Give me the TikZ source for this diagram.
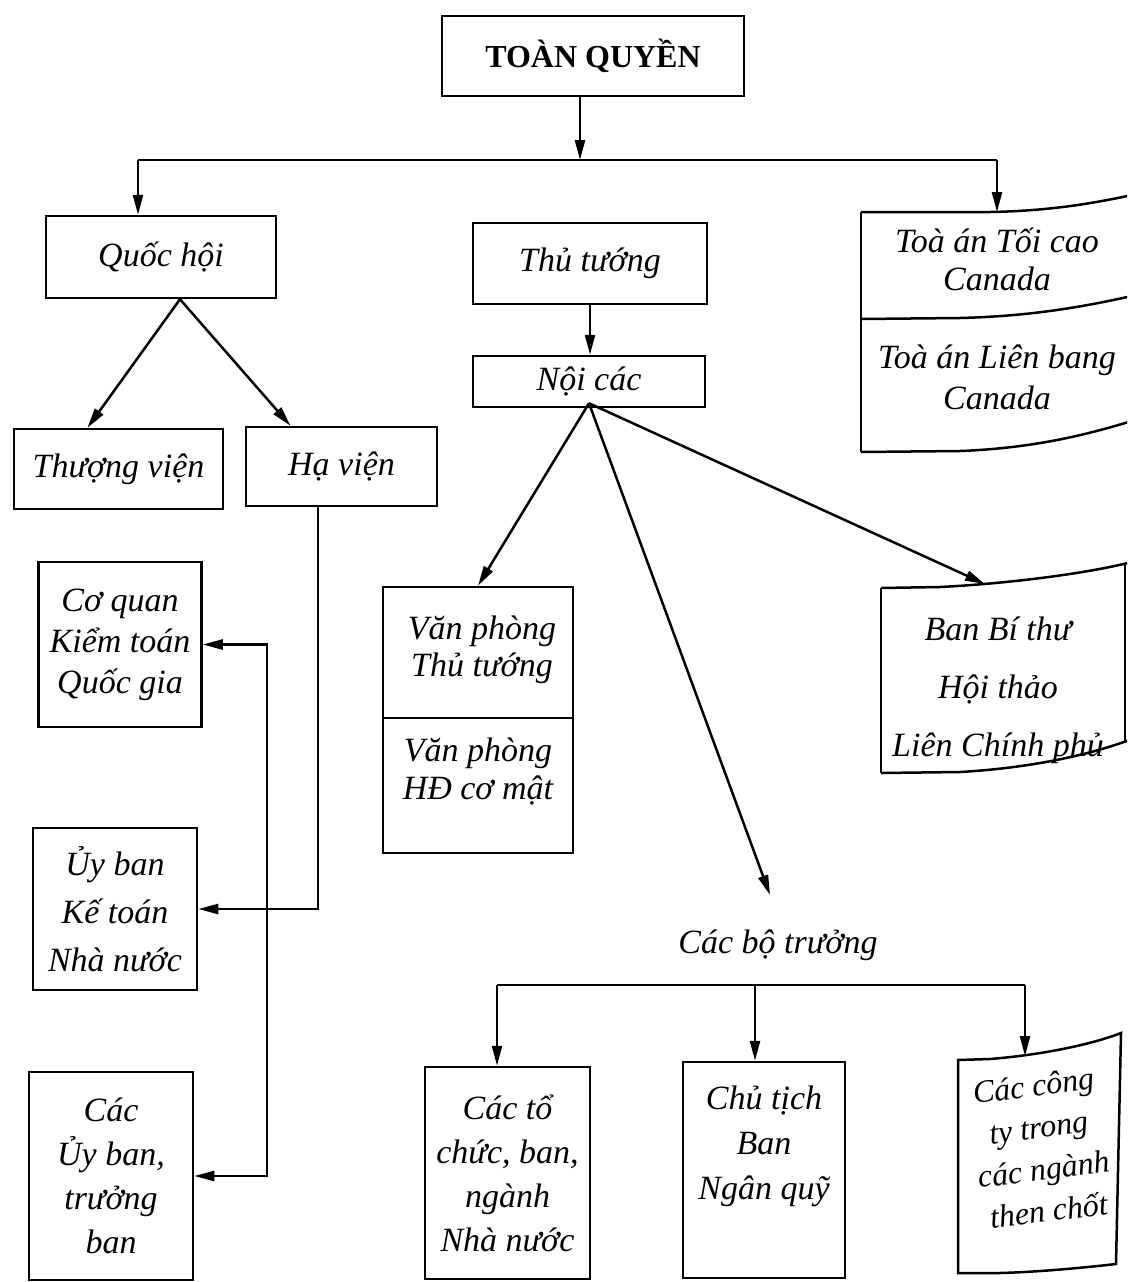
\documentclass[tikz,border=0pt]{standalone}
\usepackage{fontspec}
\setmainfont{Liberation Serif}
\usetikzlibrary{arrows.meta}
\newcommand\lblsize[2]{\fontsize{#1}{#2}\selectfont}
\begin{document}
\begin{tikzpicture}[x=1pt,y=-1pt,
  frame/.style={draw, line width=2.5pt, inner sep=0pt},
  lbl/.style={font=\itshape\lblsize{34}{42}, align=center, inner sep=0pt},
  link/.style={line width=2.5pt},
  arr/.style={link, -{Triangle[length=20pt,width=10pt]}},
  twoway/.style={link, {Triangle[length=20pt,width=10pt]}-{Triangle[length=20pt,width=10pt]}}]
\clip (0,0) rectangle (1127,1282);

% top level
\node[frame, minimum width=302, minimum height=80, font=\bfseries\lblsize{32}{36}] (gov) at (593,56) {TOÀN QUYỀN};
\coordinate (b0) at (580,160);
\coordinate (bL) at (138,160);
\coordinate (bR) at (997,160);

% legislature
\node[frame, lbl, minimum width=230, minimum height=82] (qh) at (161,257) {Quốc hội};
\node[frame, lbl, minimum width=209, minimum height=80] (tv) at (118.5,469) {Thượng viện};
\node[frame, lbl, minimum width=191, minimum height=79] (hv) at (341.5,466.5) {Hạ viện};

% executive
\node[frame, lbl, minimum width=234, minimum height=81] (tt) at (590,263.5) {Thủ tướng};
\node[frame, lbl, minimum width=232, minimum height=51] (nc) at (589,381.5) {Nội các};

% courts (curled sheet)
\draw[link] (861,212) -- (990,212) .. controls (1050,211) and (1095,203) .. (1132,195);
\draw[link] (861,319) -- (960,318) .. controls (1040,316) and (1095,304) .. (1132,296);
\draw[link] (861,452) -- (960,451) .. controls (1040,448) and (1095,432) .. (1132,421);
\draw[link] (861,212) -- (861,452);
\coordinate (toaIn) at (997,212);
\node[lbl, font=\itshape\lblsize{34}{38}] (toa1) at (997,259) {Toà án Tối cao\\Canada};
\node[lbl, font=\itshape\lblsize{34}{41}] (toa2) at (997,377) {Toà án Liên bang\\Canada};

% audit bodies
\node[frame, lbl, font=\itshape\lblsize{34}{41}, minimum width=163, minimum height=165] (cq) at (120,644.5) {Cơ quan\\Kiểm toán\\Quốc gia};
\node[frame, lbl, font=\itshape\lblsize{34}{48}, minimum width=164, minimum height=162] (ub) at (115,909) {Ủy ban\\Kế toán\\Nhà nước};
\node[frame, lbl, font=\itshape\lblsize{34}{44}, minimum width=164, minimum height=208] (cub) at (111,1176) {Các\\Ủy ban,\\trưởng\\ban};
\coordinate (vx) at (267,0);
\coordinate (hx) at (318,0);

% offices of the prime minister
\node[frame, minimum width=190, minimum height=131] (vp1) at (478,652.5) {};
\node[frame, minimum width=190, minimum height=135] (vp2) at (478,785.5) {};
\node[lbl, font=\itshape\lblsize{34}{37}] (vp1t) at (482,650) {Văn phòng\\Thủ tướng};
\node[lbl, font=\itshape\lblsize{34}{38}] (vp2t) at (478,771) {Văn phòng\\HĐ cơ mật};

% secretariat (curled sheet)
\draw[link] (881,588) -- (940,587) .. controls (1000,584) and (1080,575) .. (1132,562);
\draw[link] (881,773) -- (960,772) .. controls (1030,768) and (1090,755) .. (1132,739);
\draw[link] (881,588) -- (881,773);
\draw[link] (1125,564) -- (1125,741);
\coordinate (bbtIn) at (985,584);
\node[lbl, font=\itshape\lblsize{34}{58}] (bbt) at (998,690) {Ban Bí thư\\Hội thảo\\Liên Chính phủ};

% ministers
\node[lbl] (cbt) at (778,945) {Các bộ trưởng};
\coordinate (cbtIn) at (770,895);
\coordinate (mL) at (497,985);
\coordinate (mM) at (755,985);
\coordinate (mR) at (1025,985);

\node[frame, lbl, font=\itshape\lblsize{34}{44}, minimum width=165, minimum height=212] (cto) at (507.5,1173) {Các tổ\\chức, ban,\\ngành\\Nhà nước};
\node[frame, minimum width=162, minimum height=216] (ct) at (764,1170) {};
\node[lbl, font=\itshape\lblsize{34}{45}] (ctt) at (764,1146) {Chủ tịch\\Ban\\Ngân quỹ};

% state companies (curled sheet)
\draw[link] (958,1060) -- (990,1059) .. controls (1040,1055) and (1090,1045) .. (1121,1033)
  -- (1116,1264) .. controls (1090,1267) and (1040,1272) .. (1000,1273) -- (958,1273) -- cycle;
\coordinate (ctyIn) at (1025,1056);
\node[lbl, font=\itshape\lblsize{32}{42}, rotate=7] (cty) at (1041,1148) {Các công\\ty trong\\các ngành\\then chốt};

% connectors
\draw[arr] (gov.south -| b0) -- (b0);
\draw[link] (bL) -- (bR);
\draw[arr] (bL) -- (bL |- qh.north);
\draw[arr] (bR) -- (toaIn);

\draw[arr] ([xshift=19pt]qh.south) -- ([xshift=-31pt]tv.north);
\draw[arr] ([xshift=19pt]qh.south) -- ([xshift=-51pt]hv.north);
\draw[arr] (hv.south -| hx) |- (ub.east);
\draw[twoway] (cq.east) -- (cq.east -| vx) -- (vx |- cub.east) -- (cub.east);

\draw[arr] (tt.south) -- (tt.south |- nc.north);
\draw[arr] ([yshift=5pt]nc.south) -- (vp1.north);
\draw[arr] ([yshift=5pt]nc.south) -- (cbtIn);
\draw[arr] ([yshift=5pt]nc.south) -- (bbtIn);

\draw[link] (mL) -- (mR);
\draw[arr] (mL) -- (mL |- cto.north);
\draw[arr] (mM) -- (mM |- ct.north);
\draw[arr] (mR) -- (ctyIn);
\end{tikzpicture}
\end{document}
